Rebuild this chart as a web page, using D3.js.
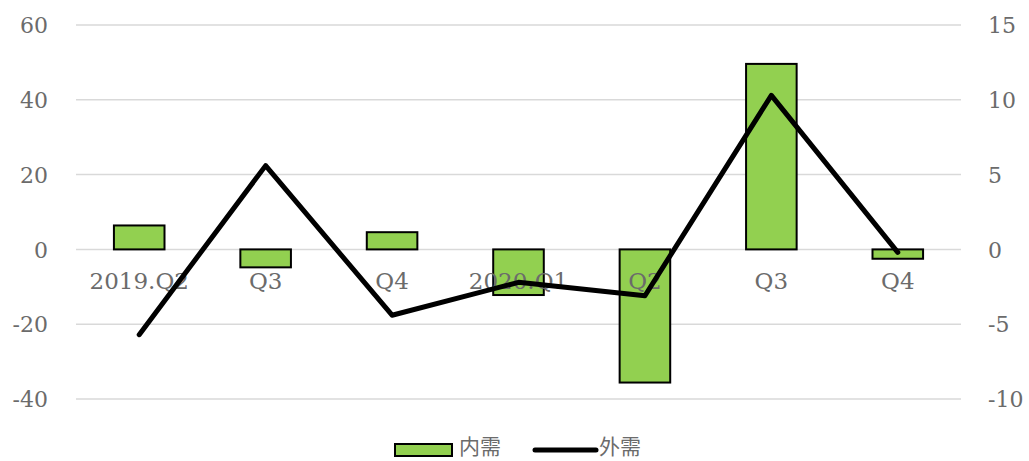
<!DOCTYPE html>
<html>
<head>
<meta charset="utf-8">
<script src="https://cdn.jsdelivr.net/npm/d3@7/dist/d3.min.js"></script>
<style>
  html, body { margin: 0; padding: 0; background: #fff; }
  svg text { font-family: "DejaVu Serif", serif; fill: #6b6b6b; }
</style>
</head>
<body>
<svg id="chart" width="1029" height="461"></svg>
<script>
const categories = ["2019.Q2", "Q3", "Q4", "2020.Q1", "Q2", "Q3", "Q4"];
const domesticValues = [6.4, -4.8, 4.6, -12.2, -35.6, 49.6, -2.5];   // 内需 (left axis)
const externalValues = [-5.7, 5.6, -4.4, -2.2, -3.1, 10.3, -0.2];   // 外需 (right axis)
const leftTicks = [-40, -20, 0, 20, 40, 60];
const rightTicks = [-10, -5, 0, 5, 10, 15];
const seriesNames = ["内需", "外需"];

const svg = d3.select("#chart");
const margin = { left: 76, right: 68, top: 25, bottom: 62 };
const W = 1029, H = 461;
const fmt = d => String(d);

const x = d3.scaleBand()
  .domain(d3.range(categories.length))
  .range([margin.left, W - margin.right])
  .paddingInner(0.6).paddingOuter(0.3);
const xc = i => x(i) + x.bandwidth() / 2;

const yL = d3.scaleLinear().domain([-40, 60]).range([H - margin.bottom, margin.top]);
const yR = d3.scaleLinear().domain([-10, 15]).range([H - margin.bottom, margin.top]);

// gridlines
svg.append("g")
  .selectAll("line").data(leftTicks).join("line")
  .attr("x1", margin.left).attr("x2", W - margin.right)
  .attr("y1", d => yL(d)).attr("y2", d => yL(d))
  .attr("stroke", "#d9d9d9").attr("stroke-width", 1.5);

// left axis
const gL = svg.append("g").attr("transform", `translate(${48},0)`)
  .call(d3.axisLeft(yL).tickValues(leftTicks).tickFormat(fmt).tickSize(0).tickPadding(0));
gL.select(".domain").remove();
gL.selectAll("text").attr("font-size", 22).style("font-family", "DejaVu Serif").attr("fill", "#6b6b6b").attr("dy", "0.35em");

// right axis
const gR = svg.append("g").attr("transform", `translate(${988},0)`)
  .call(d3.axisRight(yR).tickValues(rightTicks).tickFormat(fmt).tickSize(0).tickPadding(0));
gR.select(".domain").remove();
gR.selectAll("text").attr("font-size", 22).style("font-family", "DejaVu Serif").attr("fill", "#6b6b6b").attr("dy", "0.35em");

// bars
svg.append("g")
  .selectAll("rect").data(domesticValues).join("rect")
  .attr("x", (d, i) => x(i))
  .attr("width", x.bandwidth())
  .attr("y", d => Math.min(yL(d), yL(0)))
  .attr("height", d => Math.abs(yL(d) - yL(0)))
  .attr("fill", "#92d050")
  .attr("stroke", "#000").attr("stroke-width", 2);

// category labels (placed below the zero line)
const xAxis = svg.append("g").attr("transform", `translate(0,${yL(0)})`)
  .call(d3.axisBottom(x).tickFormat(i => categories[i]).tickSize(0).tickPadding(0));
xAxis.select(".domain").remove();
xAxis.selectAll("text").attr("font-size", 23).style("font-family", "DejaVu Serif").attr("fill", "#6b6b6b")
  .attr("y", 40).attr("dy", 0);

// line
const line = d3.line().x((d, i) => xc(i)).y(d => yR(d));
svg.append("path").datum(externalValues)
  .attr("d", line)
  .attr("fill", "none").attr("stroke", "#000").attr("stroke-width", 5)
  .attr("stroke-linejoin", "round").attr("stroke-linecap", "round");

// legend
const lg = svg.append("g");
lg.append("rect").attr("x", 395).attr("y", 444).attr("width", 57).attr("height", 12)
  .attr("fill", "#92d050").attr("stroke", "#000").attr("stroke-width", 2);
lg.append("text").attr("x", 459).attr("y", 454).attr("font-size", 21)
  .style("font-family", "'Noto Sans CJK SC', sans-serif").attr("fill", "#7a7a7a").text(seriesNames[0]);
lg.append("line").attr("x1", 535).attr("x2", 596).attr("y1", 450).attr("y2", 450)
  .attr("stroke", "#000").attr("stroke-width", 5).attr("stroke-linecap", "round");
lg.append("text").attr("x", 599).attr("y", 454).attr("font-size", 21)
  .style("font-family", "'Noto Sans CJK SC', sans-serif").attr("fill", "#7a7a7a").text(seriesNames[1]);
</script>
</body>
</html>
